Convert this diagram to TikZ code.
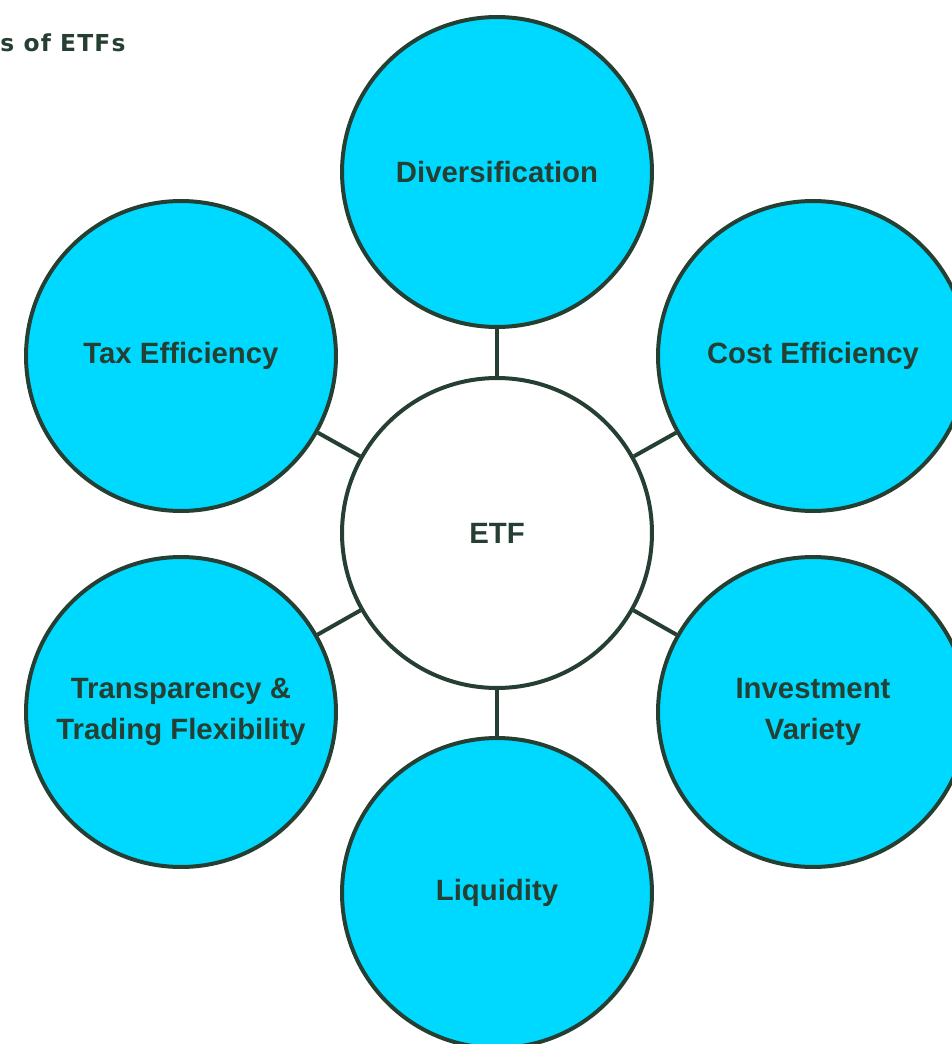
\documentclass[tikz,border=0pt]{standalone}
\usepackage{fontspec}
\setmainfont{Liberation Sans}
\newfontfamily\titlefont{DejaVu Sans Bold}[LetterSpace=5]
\usetikzlibrary{calc}
\definecolor{etfcyan}{HTML}{00D9FF}
\definecolor{etfgreen}{HTML}{263F33}
\tikzset{
	bubble/.style={circle, draw=etfgreen, fill=etfcyan, line width=0.08cm, minimum size=6.2cm, inner sep=0pt, align=center, text=etfgreen, font=\fontsize{16.7}{23.8}\selectfont\bfseries},
	hub/.style={bubble, fill=white},
	spoke/.style={draw=etfgreen, line width=0.08cm}
}

\begin{document}
\begin{tikzpicture}[x=0.02cm, y=-0.02cm]
			%%%%% START %%%%%
			
			\useasboundingbox (0, 0) rectangle (951, 1044);
			
			\node[anchor=base west, inner sep=0pt, text=etfgreen, font=\titlefont\fontsize{13.3}{16}\selectfont] (title) at (0, 52) {s of ETFs};
			
			\node[hub] (etf) at (497, 533) {ETF};
			
			\node[bubble] (div) at (497, 172) {Diversification};
			\node[bubble] (tax) at (181, 356) {Tax Efficiency};
			\node[bubble] (cost) at (813, 356) {Cost Efficiency};
			\node[bubble] (trans) at (181, 712) {Transparency \&\\Trading Flexibility};
			\node[bubble] (inv) at (813, 712) {Investment\\Variety};
			\node[bubble] (liq) at (497, 893) {Liquidity};
			
			\foreach \n in {div, tax, cost, trans, inv, liq}
				\draw[spoke] (etf) -- (\n);
			
			%%%%% END %%%%%
		\end{tikzpicture}
\end{document}
